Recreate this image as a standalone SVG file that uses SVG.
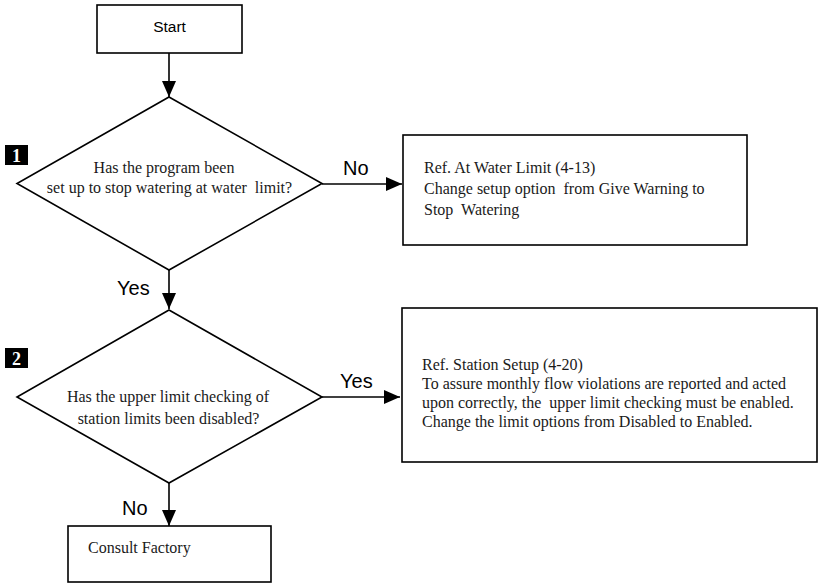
<svg xmlns="http://www.w3.org/2000/svg" width="819" height="584" viewBox="0 0 819 584">
  <style>
    text { white-space: pre; }
    .box { fill: #ffffff; stroke: #000000; stroke-width: 1.6; }
    .wire { fill: none; stroke: #000000; stroke-width: 1.6; }
    .lbl { font-family: "Liberation Sans", Arial, sans-serif; font-size: 20px; fill: #000000; }
    .start { font-family: "Liberation Sans", Arial, sans-serif; font-size: 15.5px; fill: #000000; }
    .body { font-family: "Liberation Serif", "Times New Roman", serif; font-size: 16px; fill: #1a1a1a; }
    .badge { fill: #000000; }
    .num { font-family: "Liberation Serif", "Times New Roman", serif; font-weight: bold; font-size: 18px; fill: #ffffff; }
  </style>
  <defs>
    <marker id="head" markerUnits="userSpaceOnUse" markerWidth="16" markerHeight="14" refX="16" refY="7" orient="auto">
      <path d="M0,0 L16,7 L0,14 Z" fill="#000000"/>
    </marker>
  </defs>

  <rect width="819" height="584" fill="#ffffff"/>

  <!-- connectors -->
  <g id="connectors">
    <path class="wire" d="M169,53 L169,97" marker-end="url(#head)"/>
    <path class="wire" d="M322,184 L402,184" marker-end="url(#head)"/>
    <path class="wire" d="M169,270 L169,309" marker-end="url(#head)"/>
    <path class="wire" d="M322,397 L400,397" marker-end="url(#head)"/>
    <path class="wire" d="M169,483 L169,526" marker-end="url(#head)"/>
    <text class="lbl" x="343" y="175">No</text>
    <text class="lbl" x="117" y="295">Yes</text>
    <text class="lbl" x="340" y="388">Yes</text>
    <text class="lbl" x="122" y="515">No</text>
  </g>

  <!-- start terminal -->
  <g id="start">
    <rect class="box" x="97" y="5" width="145" height="48"/>
    <text class="start" x="169.5" y="32" text-anchor="middle">Start</text>
  </g>

  <!-- decision 1 -->
  <g id="decision1">
    <polygon class="box" points="169,97 322,183.5 169,270 17,183.5"/>
    <rect class="badge" x="5" y="145" width="23" height="20"/>
    <text class="num" x="16.5" y="161.5" text-anchor="middle">1</text>
    <text class="body" x="164" y="173" text-anchor="middle">Has the program been</text>
    <text class="body" x="169.5" y="193" text-anchor="middle">set up to stop watering at water  limit?</text>
  </g>

  <!-- action: water limit -->
  <g id="waterLimit">
    <rect class="box" x="403" y="135" width="344" height="110"/>
    <text class="body" x="424" y="173">Ref. At Water Limit (4-13)</text>
    <text class="body" x="424" y="194">Change setup option  from Give Warning to</text>
    <text class="body" x="424" y="215">Stop  Watering</text>
  </g>

  <!-- decision 2 -->
  <g id="decision2">
    <polygon class="box" points="169,310 322,397 169,483 17,397"/>
    <rect class="badge" x="5" y="348" width="23" height="20"/>
    <text class="num" x="16.5" y="364.5" text-anchor="middle">2</text>
    <text class="body" x="168" y="402" text-anchor="middle">Has the upper limit checking of</text>
    <text class="body" x="168.5" y="424" text-anchor="middle">station limits been disabled?</text>
  </g>

  <!-- action: station setup -->
  <g id="stationSetup">
    <rect class="box" x="402" y="308" width="415" height="154"/>
    <text class="body" x="422" y="370">Ref. Station Setup (4-20)</text>
    <text class="body" x="422" y="389">To assure monthly flow violations are reported and acted</text>
    <text class="body" x="422" y="408">upon correctly, the  upper limit checking must be enabled.</text>
    <text class="body" x="422" y="427">Change the limit options from Disabled to Enabled.</text>
  </g>

  <!-- terminal: consult factory -->
  <g id="consult">
    <rect class="box" x="68" y="526" width="203" height="56"/>
    <text class="body" x="88" y="553">Consult Factory</text>
  </g>
</svg>
